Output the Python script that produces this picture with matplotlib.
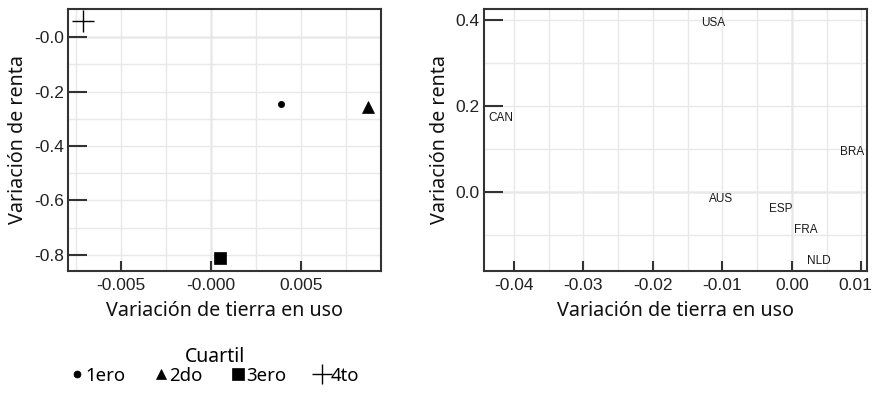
import matplotlib
matplotlib.use("Agg")
import matplotlib.pyplot as plt
from matplotlib.lines import Line2D
from matplotlib.transforms import ScaledTranslation

# ---------------- data ----------------
quartile_labels = ["1ero", "2do", "3ero", "4to"]
quartile_markers = ["o", "^", "s", "+"]
quartile_land = [0.0039, 0.0087, 0.00052, -0.0071]
quartile_rent = [-0.246, -0.257, -0.811, 0.059]

countries = ["USA", "CAN", "BRA", "AUS", "ESP", "FRA", "NLD"]
country_land = [-0.0114, -0.0419, 0.0086, -0.0102, -0.0016, 0.0020, 0.0039]
country_rent = [0.393, 0.172, 0.093, -0.016, -0.040, -0.088, -0.160]

left_xticks = [-0.005, 0.0, 0.005]
left_xticklabels = ["-0.005", "-0.000", "0.005"]
left_yticks = [0.0, -0.2, -0.4, -0.6, -0.8]
left_yticklabels = ["-0.0", "-0.2", "-0.4", "-0.6", "-0.8"]
right_xticks = [-0.04, -0.03, -0.02, -0.01, 0.0, 0.01]
right_xticklabels = ["-0.04", "-0.03", "-0.02", "-0.01", "0.00", "0.01"]
right_yticks = [0.4, 0.2, 0.0]
right_yticklabels = ["0.4", "0.2", "0.0"]

xlabel = "Variación de tierra en uso"
ylabel = "Variación de renta"
legend_title = "Cuartil"

# ---------------- style ----------------
LABEL_FONT = ["Noto Sans", "DejaVu Sans"]
TICK_FONT = ["Liberation Sans", "DejaVu Sans"]
SPINE = "#333333"
GRID = "#e8e8e8"
ZERO = "#b8b8b8"

fig = plt.figure(figsize=(8.73, 3.93), dpi=100)
axL = fig.add_axes([68/873, 1-271/393, (381-68)/873, (271-9)/393])
axR = fig.add_axes([484/873, 1-271/393, (867-484)/873, (271-9)/393])

marker_sizes = {"o": 4.5, "^": 8, "s": 9, "+": 16}


def style_axes(ax, xticks, xtl, yticks, ytl, xlim, ylim, xminor, yminor):
    ax.set_xlim(*xlim)
    ax.set_ylim(*ylim)
    ax.set_xticks(xticks)
    ax.set_xticklabels(xtl, fontfamily=TICK_FONT, fontsize=12.5, color="#222222")
    ax.set_yticks(yticks)
    ax.set_yticklabels(ytl, fontfamily=TICK_FONT, fontsize=12.5, color="#222222")
    ax.set_xticks(xminor, minor=True)
    ax.set_yticks(yminor, minor=True)
    ax.grid(True, which="both", color=GRID, lw=1.0, zorder=0)
    ax.set_axisbelow(True)
    ax.axvline(0, color=ZERO, lw=1.0, zorder=0.5)
    ax.axhline(0, color=ZERO, lw=1.0, zorder=0.5)
    ax.tick_params(axis="y", which="major", direction="in", length=14, width=1.5,
                   color=SPINE, pad=3)
    ax.tick_params(axis="x", which="major", direction="in", length=7, width=1.5,
                   color=SPINE, pad=5)
    ax.tick_params(which="minor", length=0)
    for s in ax.spines.values():
        s.set_color(SPINE)
        s.set_linewidth(1.5)
    ax.set_xlabel(xlabel, fontfamily=LABEL_FONT, fontsize=14.2, color="#111111", labelpad=6)
    ax.set_ylabel(ylabel, fontfamily=LABEL_FONT, fontsize=14.2, color="#111111", labelpad=4)


style_axes(axL, left_xticks, left_xticklabels, left_yticks, left_yticklabels,
           (-0.00794, 0.00944), (-0.859, 0.103),
           [-0.0075, -0.0025, 0.0025, 0.0075], [-0.1, -0.3, -0.5, -0.7])
style_axes(axR, right_xticks, right_xticklabels, right_yticks, right_yticklabels,
           (-0.0443, 0.0108), (-0.184, 0.4256),
           [-0.035, -0.025, -0.015, -0.005, 0.005], [0.3, 0.1, -0.1])

# the last tick label of the right panel sits a bit left so it stays inside the figure
last = axR.get_xticklabels()[-1]
last.set_transform(last.get_transform() + ScaledTranslation(-6/100, 0, fig.dpi_scale_trans))

for x, y, m in zip(quartile_land, quartile_rent, quartile_markers):
    axL.plot([x], [y], linestyle="none", marker=m, markersize=marker_sizes[m],
             color="black", markeredgewidth=1.0 if m == "+" else 0.5, zorder=3)

for x, y, name in zip(country_land, country_rent, countries):
    axR.text(x, y, name, ha="center", va="center", fontsize=8.5,
             fontfamily=TICK_FONT, color="#1a1a1a", zorder=3)

handles = [Line2D([], [], linestyle="none", marker=m, color="black",
                  markersize={"o": 5, "^": 7, "s": 9, "+": 14}[m],
                  markeredgewidth=1.0 if m == "+" else 0.5)
           for m in quartile_markers]
leg = fig.legend(handles, quartile_labels, title=legend_title, ncol=4,
                 loc="center", bbox_to_anchor=(215/873, 1-366/393), frameon=False,
                 handlelength=0.6, handletextpad=0.15, columnspacing=1.6,
                 prop={"family": LABEL_FONT, "size": 13.4}, borderpad=0, labelspacing=0)
leg.get_title().set_fontfamily(LABEL_FONT)
leg.get_title().set_fontsize(14)

fig.savefig("out.png", dpi=100)
